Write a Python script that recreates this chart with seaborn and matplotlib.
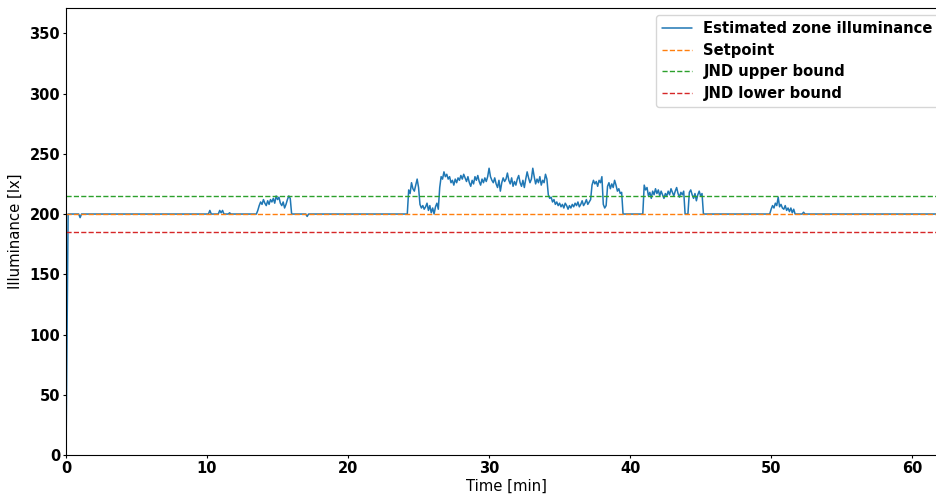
import matplotlib
matplotlib.use("Agg")
import matplotlib.pyplot as plt
import seaborn as sns
import pandas as pd

# Estimated zone illuminance over the run (time in minutes, illuminance in lx)
time_min = [
    0.0, 0.15, 0.9, 1.0, 1.1, 10.1, 10.2, 10.3, 10.8, 10.9, 11.0, 11.1, 11.2, 11.5, 11.6, 11.7, 13.5,
    13.6, 13.7, 13.8, 13.9, 14.0, 14.1, 14.2, 14.3, 14.4, 14.5, 14.6, 14.7, 14.8, 14.9, 15.0, 15.1,
    15.2, 15.3, 15.4, 15.5, 15.6, 15.7, 15.8, 15.9, 16.0, 17.0, 17.1, 17.2, 24.2,
    24.3, 24.4, 24.5, 24.6, 24.7, 24.8, 24.9, 25.0, 25.1, 25.2, 25.3, 25.4, 25.5, 25.6, 25.7, 25.8,
    25.9, 26.0, 26.1, 26.2, 26.3, 26.4, 26.5, 26.6, 26.7, 26.8, 26.9, 27.0, 27.1, 27.2, 27.3, 27.4,
    27.5, 27.6, 27.7, 27.8, 27.9, 28.0, 28.1, 28.2, 28.3, 28.4, 28.5, 28.6, 28.7, 28.8, 28.9, 29.0,
    29.1, 29.2, 29.3, 29.4, 29.5, 29.6, 29.7, 29.8, 29.9, 30.0, 30.1, 30.2, 30.3, 30.4, 30.5, 30.6,
    30.7, 30.8, 30.9, 31.0, 31.1, 31.2, 31.3, 31.4, 31.5, 31.6, 31.7, 31.8, 31.9, 32.0, 32.1, 32.2,
    32.3, 32.4, 32.5, 32.6, 32.7, 32.8, 32.9, 33.0, 33.1, 33.2, 33.3, 33.4, 33.5, 33.6, 33.7, 33.8,
    33.9, 34.0, 34.1, 34.2, 34.3, 34.4, 34.5, 34.6, 34.7, 34.8, 34.9, 35.0, 35.1, 35.2, 35.3, 35.4,
    35.5, 35.6, 35.7, 35.8, 35.9, 36.0, 36.1, 36.2, 36.3, 36.4, 36.5, 36.6, 36.7, 36.8, 36.9, 37.0,
    37.1, 37.2, 37.3, 37.4, 37.5, 37.6, 37.7, 37.8, 37.9, 38.0, 38.1, 38.2, 38.3, 38.4, 38.5, 38.6,
    38.7, 38.8, 38.9, 39.0, 39.1, 39.2, 39.3, 39.4, 39.5, 40.9,
    41.0, 41.1, 41.2, 41.3, 41.4, 41.5, 41.6, 41.7, 41.8, 41.9, 42.0, 42.1, 42.2, 42.3, 42.4, 42.5,
    42.6, 42.7, 42.8, 42.9, 43.0, 43.1, 43.2, 43.3, 43.4, 43.5, 43.6, 43.7, 43.8, 43.9, 44.1, 44.2,
    44.3, 44.4, 44.5, 44.6, 44.7, 44.8, 44.9, 45.0, 45.1, 45.2, 49.9,
    50.0, 50.1, 50.2, 50.3, 50.4, 50.5, 50.6, 50.7, 50.8, 50.9, 51.0, 51.1, 51.2, 51.3, 51.4, 51.5,
    51.6, 51.7, 52.2, 52.3, 52.4, 62.7,
]
illuminance_lx = [
    0, 200, 200, 197, 200, 200, 203, 200, 200, 203, 201, 203, 200, 200, 201, 200, 200,
    203, 207, 210, 208, 212, 209, 207, 211, 208, 212, 210, 213, 209, 215, 212, 214,
    209, 207, 210, 205, 208, 212, 215, 213, 200, 200, 198, 200, 200,
    220, 217, 226, 221, 219, 224, 229, 222, 208, 205, 207, 204, 206, 209, 203, 207,
    201, 205, 200, 206, 209, 204, 222, 231, 229, 235, 231, 233, 229, 231, 226, 228,
    224, 229, 226, 230, 228, 232, 229, 233, 230, 227, 231, 226, 223, 228, 225, 231,
    228, 232, 227, 224, 229, 226, 230, 227, 231, 238, 231, 228, 226, 230, 225, 222,
    228, 219, 226, 230, 227, 229, 234, 228, 225, 230, 223, 227, 224, 229, 232, 226,
    223, 228, 222, 229, 235, 230, 226, 229, 238, 231, 225, 229, 226, 231, 224, 228,
    226, 233, 229, 216, 213, 214, 210, 212, 208, 210, 207, 209, 206, 208, 205, 209,
    207, 204, 207, 205, 208, 206, 209, 207, 210, 206, 208, 211, 207, 209, 212, 208,
    210, 212, 224, 228, 225, 227, 223, 228, 226, 231, 208, 205, 207, 223, 226, 221,
    225, 222, 228, 224, 219, 221, 217, 218, 200, 200,
    224, 220, 222, 215, 218, 213, 219, 216, 221, 217, 220, 215, 219, 216, 213, 217,
    215, 219, 216, 221, 218, 215, 219, 222, 217, 214, 218, 216, 219, 200, 200, 218,
    220, 216, 213, 217, 211, 216, 219, 215, 217, 200, 200,
    204, 207, 205, 209, 207, 214, 206, 208, 205, 204, 207, 203, 205, 202, 205, 201,
    204, 200, 200, 201.5, 200, 200,
]

# Reference levels
setpoint = 200
jnd_upper = 215
jnd_lower = 185

series_labels = ["Estimated zone illuminance", "Setpoint", "JND upper bound", "JND lower bound"]
x_ticks = [0, 10, 20, 30, 40, 50, 60]
y_ticks = [0, 50, 100, 150, 200, 250, 300, 350]

sns.set_theme(style="ticks")
plt.rcParams["font.family"] = ["DejaVu Sans"]
plt.rcParams.update({
    "text.color": "black",
    "axes.labelcolor": "black",
    "xtick.color": "black",
    "ytick.color": "black",
    "axes.edgecolor": "black",
})

palette = sns.color_palette("tab10")

fig = plt.figure(figsize=(9.36, 4.97), dpi=100)
ax = fig.add_axes([66 / 936, 1 - 455 / 497, (946 - 66) / 936, (455 - 8) / 497])

df = pd.DataFrame({"t": time_min, "lx": illuminance_lx})
sns.lineplot(data=df, x="t", y="lx", ax=ax, color=palette[0], linewidth=1.1,
             label=series_labels[0], estimator=None, sort=False)

for level, color, label in [(setpoint, palette[1], series_labels[1]),
                            (jnd_upper, palette[2], series_labels[2]),
                            (jnd_lower, palette[3], series_labels[3])]:
    ax.axhline(level, color=color, linestyle="--", linewidth=1.0, label=label)

ax.set_xlim(0, 62.4)
ax.set_ylim(0, 371)
ax.set_xticks(x_ticks)
ax.set_yticks(y_ticks)
ax.set_xlabel("Time [min]", fontsize=10.7, labelpad=2)
ax.set_ylabel("Illuminance [lx]", fontsize=10.7, labelpad=5)
for lbl in ax.get_xticklabels() + ax.get_yticklabels():
    lbl.set_fontweight("bold")
    lbl.set_fontsize(10.5)
ax.tick_params(axis="both", length=2.5, width=0.8, pad=1.8, color="black")
for side in ["left", "bottom", "top", "right"]:
    ax.spines[side].set_visible(True)
    ax.spines[side].set_color("black")
    ax.spines[side].set_linewidth(0.8)

leg = ax.legend(loc="upper right", prop={"weight": "bold", "size": 10.6},
                frameon=True, fancybox=True, framealpha=0.8, borderaxespad=0.5,
                labelspacing=0.45)
leg.get_frame().set_edgecolor("#cccccc")

fig.savefig("out.png", dpi=100)
